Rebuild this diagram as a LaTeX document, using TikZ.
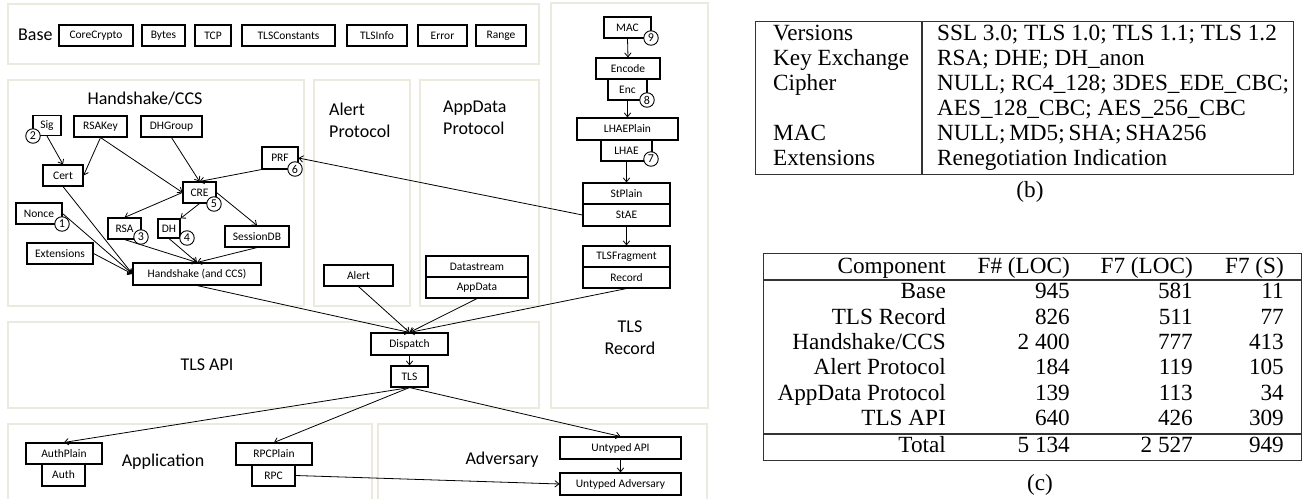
\documentclass[tikz,border=0pt]{standalone}
\usepackage{fontspec}
\newfontfamily\calib{Carlito}
\newfontfamily\tms{Liberation Serif}
\usetikzlibrary{arrows.meta,calc}
\definecolor{panelc}{HTML}{ECEADF}
\begin{document}
\begin{tikzpicture}[x=1pt,y=-1pt,
  panel/.style={draw=panelc,line width=2.4pt,fill=none,inner sep=0pt,anchor=north west},
  bx/.style={draw=black,line width=1.1pt,fill=white,inner sep=0pt,font=\calib\fontsize{11.5}{13}\selectfont},
  num/.style={circle,draw=black,line width=0.9pt,fill=white,inner sep=0pt,minimum size=14.5pt,font=\calib\fontsize{12}{13}\selectfont},
  plabel/.style={font=\calib\fontsize{18}{22}\selectfont,inner sep=0pt},
  arr/.style={draw=black,line width=0.8pt,-{Straight Barb[length=4pt,width=6.5pt]}},
  tb/.style={font=\tms\fontsize{23.2}{25}\selectfont,inner sep=0pt},
  rule/.style={draw=black!80,line width=1.1pt}
]
\useasboundingbox (0,0) rectangle (1309,498);
% ---------- panels ----------
\node[panel,minimum width=531,minimum height=60] (pBase) at (7,3) {};
\node[panel,minimum width=296,minimum height=226] (pHS) at (7,79) {};
\node[panel,minimum width=96,minimum height=226] (pAlert) at (313,79) {};
\node[panel,minimum width=119,minimum height=226] (pApp) at (419,79) {};
\node[panel,minimum width=157,minimum height=405] (pRec) at (550,2) {};
\node[panel,minimum width=531,minimum height=86] (pAPI) at (7,321) {};
\node[panel,minimum width=364,minimum height=80] (pAppl) at (7,423) {};
\node[panel,minimum width=329,minimum height=80] (pAdv) at (377,423) {};
% ---------- panel labels ----------
\node[plabel,anchor=west] (lBase) at (18,35) {Base};
\node[plabel] (lHS) at (145,99) {Handshake/CCS};
\node[plabel,anchor=west,align=left] (lAlert) at (329,120) {Alert\\Protocol};
\node[plabel,anchor=west,align=left] (lApp) at (443,118) {AppData\\Protocol};
\node[plabel,align=center] (lRec) at (630,338) {TLS\\Record};
\node[plabel] (lAPI) at (207,365) {TLS API};
\node[plabel] (lAppl) at (163,462) {Application};
\node[plabel] (lAdv) at (502,460) {Adversary};
% ---------- base boxes ----------
\node[bx,minimum width=74,minimum height=21] (CoreCrypto) at (96,35.5) {CoreCrypto};
\node[bx,minimum width=43,minimum height=21] (Bytes) at (163.5,35.5) {Bytes};
\node[bx,minimum width=36,minimum height=21] (TCP) at (213,35.5) {TCP};
\node[bx,minimum width=93,minimum height=21] (TLSConstants) at (288.5,35.5) {TLSConstants};
\node[bx,minimum width=60,minimum height=21] (TLSInfo) at (377,35.5) {TLSInfo};
\node[bx,minimum width=49,minimum height=21] (Error) at (442.5,35.5) {Error};
\node[bx,minimum width=50,minimum height=21] (Range) at (501,35.5) {Range};
% ---------- handshake boxes ----------
\node[bx,minimum width=28,minimum height=20] (Sig) at (47,125.5) {Sig};
\node[bx,minimum width=53,minimum height=21] (RSAKey) at (100.5,126.5) {RSAKey};
\node[bx,minimum width=61,minimum height=21] (DHGroup) at (171.5,126.5) {DHGroup};
\node[bx,minimum width=36,minimum height=22] (PRF) at (280,158) {PRF};
\node[bx,minimum width=40,minimum height=21] (Cert) at (63,175.5) {Cert};
\node[bx,minimum width=33,minimum height=21] (CRE) at (199.5,192.5) {CRE};
\node[bx,minimum width=46,minimum height=21] (Nonce) at (39,213.5) {Nonce};
\node[bx,minimum width=33,minimum height=21] (RSA) at (124.5,228.5) {RSA};
\node[bx,minimum width=22,minimum height=19] (DH) at (169,228.5) {DH};
\node[bx,minimum width=64,minimum height=21] (SessionDB) at (257,236.5) {SessionDB};
\node[bx,minimum width=66,minimum height=21] (Extensions) at (60,253.5) {Extensions};
\node[bx,minimum width=128,minimum height=22] (Handshake) at (197,274) {Handshake (and CCS)};
% ---------- alert / appdata ----------
\node[bx,minimum width=69,minimum height=21] (Alert) at (358.5,275.5) {Alert};
\node[bx,minimum width=102,minimum height=21] (Datastream) at (477,266.5) {Datastream};
\node[bx,minimum width=102,minimum height=21] (AppData) at (477,287.5) {AppData};
% ---------- record column ----------
\node[bx,minimum width=47,minimum height=21] (MAC) at (627.5,27.5) {MAC};
\node[bx,minimum width=64,minimum height=21] (Encode) at (628,68.5) {Encode};
\node[bx,minimum width=39,minimum height=21] (Enc) at (627.5,89.5) {Enc};
\node[bx,minimum width=101,minimum height=22] (LHAEPlain) at (627.5,129) {LHAEPlain};
\node[bx,minimum width=51,minimum height=21] (LHAE) at (626.5,150.5) {LHAE};
\node[bx,minimum width=87,minimum height=21] (StPlain) at (626.5,193.5) {StPlain};
\node[bx,minimum width=87,minimum height=22] (StAE) at (626.5,215) {StAE};
\node[bx,minimum width=87,minimum height=21] (TLSFragment) at (626.5,256.5) {TLSFragment};
\node[bx,minimum width=87,minimum height=21] (Record) at (626.5,277.5) {Record};
% ---------- API ----------
\node[bx,minimum width=77,minimum height=22] (Dispatch) at (409.5,344) {Dispatch};
\node[bx,minimum width=37,minimum height=21] (TLS) at (409.5,376.5) {TLS};
% ---------- application / adversary ----------
\node[bx,minimum width=76,minimum height=21] (AuthPlain) at (64,453.5) {AuthPlain};
\node[bx,minimum width=43,minimum height=22] (Auth) at (63.5,475) {Auth};
\node[bx,minimum width=76,minimum height=22] (RPCPlain) at (274,454) {RPCPlain};
\node[bx,minimum width=43,minimum height=21] (RPC) at (273.5,475.5) {RPC};
\node[bx,minimum width=121,minimum height=22] (UAPI) at (620.5,448) {Untyped API};
\node[bx,minimum width=121,minimum height=22] (UAdv) at (620.5,484) {Untyped Adversary};
% ---------- connectors ----------
\draw[arr] (Sig.south) -- (Cert.north);
\draw[arr] (RSAKey.south) -- (Cert.east);
\draw[arr] (RSAKey.south) -- (CRE.west);
\draw[arr] (DHGroup.south) -- (CRE.north);
\draw[arr] (PRF.south west) -- (CRE.north);
\draw[arr] (StAE.west) -- (PRF.east);
\draw[arr] (CRE.west) -- (RSA.north);
\draw[arr] (CRE.south) -- (DH.north east);
\draw[arr] (CRE.east) -- (SessionDB.north);
\draw[arr] (Cert.south) -- (Handshake.west);
\draw[arr] (Nonce.east) -- (Handshake.west);
\draw[arr] (Extensions.east) -- (Handshake.west);
\draw[arr] (RSA.south) -- (Handshake.north);
\draw[arr] (DH.south) -- (Handshake.north);
\draw[arr] (SessionDB.south) -- (Handshake.north);
\draw[arr] (Handshake.south) -- (Dispatch.north);
\draw[arr] (Alert.south) -- (Dispatch.north);
\draw[arr] (AppData.south) -- (Dispatch.north);
\draw[arr] (Record.south) -- (Dispatch.north);
\draw[arr] (MAC.south) -- (Encode.north);
\draw[arr] (Enc.south) -- (LHAEPlain.north);
\draw[arr] (LHAE.south) -- (StPlain.north);
\draw[arr] (StAE.south) -- (TLSFragment.north);
\draw[arr] (Dispatch.south) -- (TLS.north);
\draw[arr] (TLS.south) -- (AuthPlain.north);
\draw[arr] (TLS.south) -- (RPCPlain.north);
\draw[arr] (TLS.south) -- (UAPI.north);
\draw[arr] (RPC.east) -- (UAdv.west);
\draw[arr] (UAPI.south) -- (UAdv.north);
% ---------- numbered circles ----------
\node[num] (c1) at (62,224) {1};
\node[num] (c2) at (33,136) {2};
\node[num] (c3) at (141,237) {3};
\node[num] (c4) at (187,238) {4};
\node[num] (c5) at (214,204) {5};
\node[num] (c6) at (295,169) {6};
\node[num] (c7) at (651,159) {7};
\node[num] (c8) at (647,100) {8};
\node[num] (c9) at (651,38) {9};
% ---------- table (b) ----------
\node[draw=black!80,line width=1.1pt,inner sep=0pt,minimum width=538,minimum height=153,anchor=north west] (tabb) at (755,21) {};
\draw[rule] (922,21) -- (922,174);
\node[tb,anchor=base west] (b1l) at (773,40) {Versions};
\node[tb,anchor=base west] (b2l) at (773,65) {Key Exchange};
\node[tb,anchor=base west] (b3l) at (773,90) {Cipher};
\node[tb,anchor=base west] (b5l) at (773,140) {MAC};
\node[tb,anchor=base west] (b6l) at (773,165) {Extensions};
\node[tb,anchor=base west,text width=352,align=justify] (b1r) at (937,40) {SSL 3.0; TLS 1.0; TLS 1.1; TLS~1.2\hfill\null};
\node[tb,anchor=base west] (b2r) at (937,65) {RSA; DHE; DH\_anon};
\node[tb,anchor=base west] (b3r) at (937,90) {NULL; RC4\_128; 3DES\_EDE\_CBC;};
\node[tb,anchor=base west] (b4r) at (937,115) {AES\_128\_CBC; AES\_256\_CBC};
\node[tb,anchor=base west] (b5r) at (937,140) {NULL;\,MD5;\,SHA;\,SHA256};
\node[tb,anchor=base west] (b6r) at (937,165) {Renegotiation Indication};
\node[tb] (capb) at (1030,192) {(b)};
% ---------- table (c) ----------
\node[draw=black!80,line width=1.1pt,inner sep=0pt,minimum width=538,minimum height=207,anchor=north west] (tabc) at (763,253) {};
\draw[rule] (tabc.west |- 0,280) -- (tabc.east |- 0,280);
\draw[rule] (tabc.west |- 0,434) -- (tabc.east |- 0,434);
\foreach \r/\a/\b/\c/\d/\y in {
  h/Component/F\# (LOC)/F7 (LOC)/F7 (S)/273,
  r1/Base/945/581/11/298.5,
  r2/TLS Record/826/511/77/324,
  r3/Handshake\slash CCS/2 400/777/413/349,
  r4/Alert Protocol/184/119/105/374.5,
  r5/AppData Protocol/139/113/34/400,
  r6/TLS API/640/426/309/425,
  r7/Total/5 134/2 527/949/452}{
  \node[tb,anchor=base east] (\r a) at (946,\y) {\a};
  \node[tb,anchor=base east] (\r b) at (1070,\y) {\b};
  \node[tb,anchor=base east] (\r c) at (1193,\y) {\c};
  \node[tb,anchor=base east] (\r d) at (1284,\y) {\d};
}
\node[tb] (capc) at (1040,485) {(c)};
\end{tikzpicture}
\end{document}
